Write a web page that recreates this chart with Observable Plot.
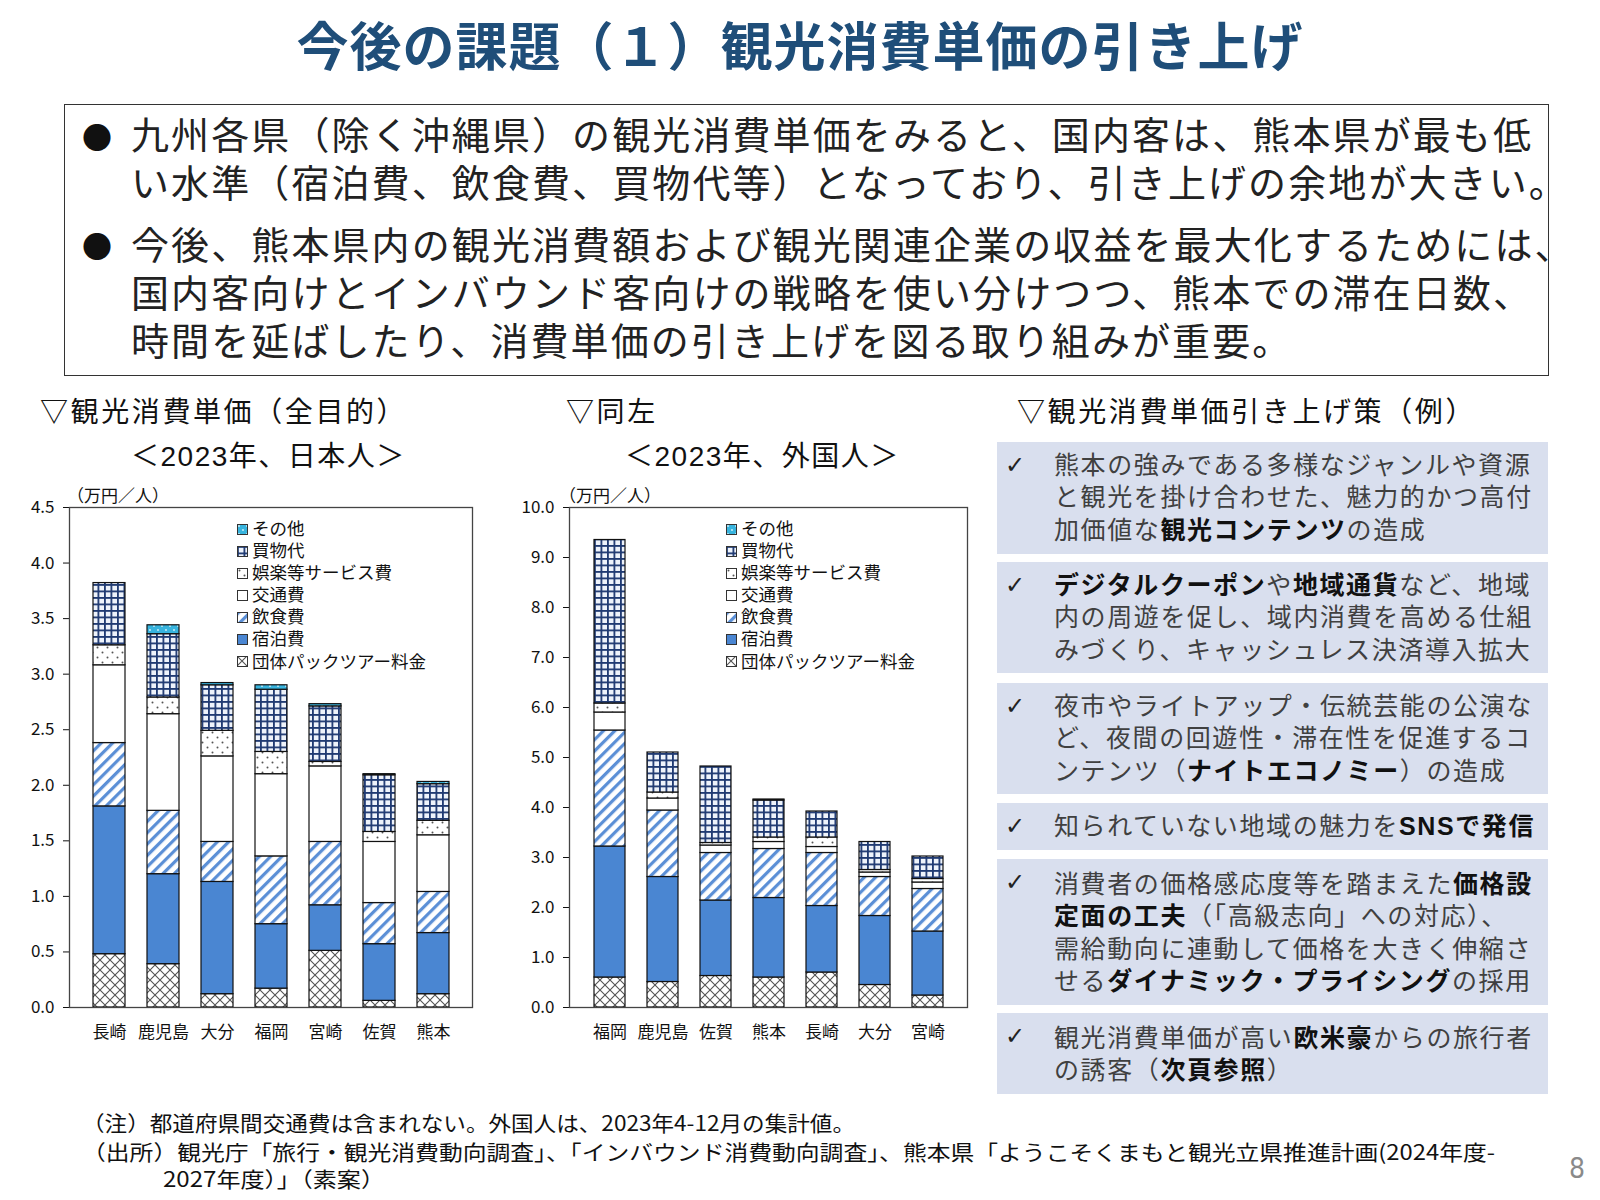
<!DOCTYPE html>
<html><head><meta charset="utf-8">
<script src="https://cdn.jsdelivr.net/npm/d3@7"></script>
<script src="https://cdn.jsdelivr.net/npm/@observablehq/plot@0.6"></script>
<style>
body{margin:0;width:1600px;height:1200px;position:relative;background:#fff;font-family:"Liberation Sans","Noto Sans CJK JP",sans-serif;overflow:hidden;color:#222}
.abs{position:absolute;white-space:nowrap}
.title{left:0;width:1600px;text-align:center;top:16px;font-size:52px;line-height:64px;font-weight:700;color:#1f4e79;letter-spacing:1px}
.box{left:64px;top:104px;width:1485px;height:272px;border:1.5px solid #333;box-sizing:border-box}
.bl{font-size:38px;line-height:48px;letter-spacing:2.1px;left:131px;color:#222}
.bul{font-size:30px;line-height:48px;left:82px;color:#111;font-family:"Noto Sans CJK JP",sans-serif}
.sec{font-size:28px;line-height:36px;letter-spacing:2.6px;color:#111}
.card{left:997px;width:551px;background:#d9dfee;box-sizing:border-box}
.ct{position:absolute;left:57px;top:7px;font-size:25px;line-height:32.3px;letter-spacing:1.6px;color:#404040;white-space:nowrap}
.ct b{color:#111;font-weight:700}
.ck{position:absolute;left:8px;top:7px;font-size:24px;line-height:32px;color:#222;font-family:"DejaVu Sans",sans-serif;font-weight:700}
.unit{font-size:17px;line-height:20px;color:#111}
.lg{font-size:17.5px;line-height:22.1px;color:#111;display:flex;align-items:center}
.lg svg{margin-right:4px}
</style></head><body>
<svg width="0" height="0" style="position:absolute">
 <defs>
  <pattern id="pPack" width="10" height="10" patternUnits="userSpaceOnUse">
   <rect width="10" height="10" fill="#fff"/>
   <path d="M0,0L10,10M10,0L0,10" stroke="#555" stroke-width="1.1"/>
  </pattern>
  <pattern id="pLodge" width="10" height="10" patternUnits="userSpaceOnUse">
   <rect width="10" height="10" fill="#4a86d2"/>
  </pattern>
  <pattern id="pFood" width="8" height="8" patternUnits="userSpaceOnUse" patternTransform="rotate(45)">
   <rect width="8" height="8" fill="#fff"/>
   <rect width="3.2" height="8" fill="#5b8fd6"/>
  </pattern>
  <pattern id="pTrans" width="10" height="10" patternUnits="userSpaceOnUse">
   <rect width="10" height="10" fill="#fff"/>
  </pattern>
  <pattern id="pEnt" width="10" height="10" patternUnits="userSpaceOnUse">
   <rect width="10" height="10" fill="#fff"/>
   <circle cx="2.5" cy="2.5" r="1" fill="#555"/>
   <circle cx="7.5" cy="7.5" r="1" fill="#555"/>
  </pattern>
  <pattern id="pShop" width="6.5" height="6.5" patternUnits="userSpaceOnUse">
   <rect width="6.5" height="6.5" fill="#eef3fb"/>
   <rect width="6.5" height="1.8" fill="#1f3a72"/>
   <rect width="1.8" height="6.5" fill="#1f3a72"/>
  </pattern>
  <pattern id="pOther" width="8" height="8" patternUnits="userSpaceOnUse">
   <rect width="8" height="8" fill="#38b4de"/>
   <circle cx="2" cy="2" r="0.9" fill="#d8f1fa"/>
   <circle cx="6" cy="6" r="0.9" fill="#d8f1fa"/>
  </pattern>
 </defs>
</svg>

<div class="abs title">今後の課題（１）観光消費単価の引き上げ</div>
<div class="abs box"></div>
<div class="abs bul" style="top:112px">●</div>
<div class="abs bl" style="top:112px">九州各県（除く沖縄県）の観光消費単価をみると、国内客は、熊本県が最も低</div>
<div class="abs bl" style="top:160px">い水準（宿泊費、飲食費、買物代等）となっており、引き上げの余地が大きい。</div>
<div class="abs bul" style="top:221px">●</div>
<div class="abs bl" style="top:222px">今後、熊本県内の観光消費額および観光関連企業の収益を最大化するためには、</div>
<div class="abs bl" style="top:270px">国内客向けとインバウンド客向けの戦略を使い分けつつ、熊本での滞在日数、</div>
<div class="abs bl" style="top:318px">時間を延ばしたり、消費単価の引き上げを図る取り組みが重要。</div>

<div class="abs sec" style="left:40px;top:395px">▽観光消費単価（全目的）</div>
<div class="abs sec" style="left:131px;top:439px;letter-spacing:1.5px">＜2023年、日本人＞</div>
<div class="abs sec" style="left:566px;top:395px">▽同左</div>
<div class="abs sec" style="left:625px;top:439px;letter-spacing:1.5px">＜2023年、外国人＞</div>
<div class="abs sec" style="left:1017px;top:395px">▽観光消費単価引き上げ策（例）</div>

<div id="c1" class="abs" style="left:0;top:480px"></div>
<div id="c2" class="abs" style="left:490px;top:480px"></div>
<div class="abs unit" style="left:67px;top:487px">（万円／人）</div>
<div class="abs unit" style="left:559px;top:487px">（万円／人）</div>
<div id="lg1" class="abs" style="left:237px;top:518px"></div>
<div id="lg2" class="abs" style="left:726px;top:518px"></div>

<div class="abs card" style="top:442px;height:112px"><div class="ck">✓</div><div class="ct">熊本の強みである多様なジャンルや資源<br>と観光を掛け合わせた、魅力的かつ高付<br>加価値な<b>観光コンテンツ</b>の造成</div></div>
<div class="abs card" style="top:562px;height:111px"><div class="ck">✓</div><div class="ct"><b>デジタルクーポン</b>や<b>地域通貨</b>など、地域<br>内の周遊を促し、域内消費を高める仕組<br>みづくり、キャッシュレス決済導入拡大</div></div>
<div class="abs card" style="top:683px;height:111px"><div class="ck">✓</div><div class="ct">夜市やライトアップ・伝統芸能の公演な<br>ど、夜間の回遊性・滞在性を促進するコ<br>ンテンツ（<b>ナイトエコノミー</b>）の造成</div></div>
<div class="abs card" style="top:803px;height:47px"><div class="ck">✓</div><div class="ct">知られていない地域の魅力を<b>SNSで発信</b></div></div>
<div class="abs card" style="top:859px;height:146px"><div class="ck">✓</div><div class="ct" style="top:9px">消費者の価格感応度等を踏まえた<b>価格設</b><br><b>定面の工夫</b>（「高級志向」への対応）、<br>需給動向に連動して価格を大きく伸縮さ<br>せる<b>ダイナミック・プライシング</b>の採用</div></div>
<div class="abs card" style="top:1013px;height:81px"><div class="ck">✓</div><div class="ct" style="top:9px">観光消費単価が高い<b>欧米豪</b>からの旅行者<br>の誘客（<b>次頁参照</b>）</div></div>

<svg class="abs" style="left:0;top:1105px" width="1600" height="95">
 <g font-family="'Noto Sans CJK JP',sans-serif" font-size="21" fill="#111">
  <text x="82" y="26" textLength="773" lengthAdjust="spacingAndGlyphs">（注）都道府県間交通費は含まれない。外国人は、2023年4-12月の集計値。</text>
  <text x="82" y="55" textLength="1413" lengthAdjust="spacingAndGlyphs">（出所）観光庁「旅行・観光消費動向調査」、「インバウンド消費動向調査」、熊本県「ようこそくまもと観光立県推進計画(2024年度-</text>
  <text x="163" y="82" textLength="222" lengthAdjust="spacingAndGlyphs">2027年度）」（素案）</text>
 </g>
 <text x="1577" y="73" font-family="'Liberation Sans Narrow','DejaVu Sans Condensed',sans-serif" font-size="28" fill="#8a8a8a" text-anchor="middle">8</text>
</svg>

<script>
// ---- data ----
const seriesNames = ["団体パックツアー料金","宿泊費","飲食費","交通費","娯楽等サービス費","買物代","その他"];
const patternIds = ["pPack","pLodge","pFood","pTrans","pEnt","pShop","pOther"];

// 日本人 (万円／人)
const prefJP = ["長崎","鹿児島","大分","福岡","宮崎","佐賀","熊本"];
const jpPack      = [0.48, 0.39, 0.12, 0.17, 0.51, 0.06, 0.12];
const jpLodging   = [1.33, 0.81, 1.01, 0.58, 0.41, 0.51, 0.55];
const jpFood      = [0.57, 0.57, 0.36, 0.61, 0.57, 0.37, 0.37];
const jpTransport = [0.70, 0.87, 0.77, 0.74, 0.68, 0.55, 0.51];
const jpEntertain = [0.18, 0.15, 0.23, 0.20, 0.04, 0.09, 0.13];
const jpShopping  = [0.56, 0.57, 0.41, 0.56, 0.50, 0.51, 0.33];
const jpOther     = [0.00, 0.08, 0.02, 0.04, 0.02, 0.01, 0.02];

// 外国人 (万円／人)
const prefFG = ["福岡","鹿児島","佐賀","熊本","長崎","大分","宮崎"];
const fgPack      = [0.60, 0.51, 0.63, 0.60, 0.70, 0.45, 0.24];
const fgLodging   = [2.62, 2.10, 1.51, 1.59, 1.33, 1.38, 1.28];
const fgFood      = [2.32, 1.33, 0.95, 0.98, 1.06, 0.78, 0.85];
const fgTransport = [0.36, 0.24, 0.15, 0.14, 0.12, 0.09, 0.13];
const fgEntertain = [0.18, 0.12, 0.05, 0.09, 0.19, 0.05, 0.07];
const fgShopping  = [3.27, 0.80, 1.53, 0.74, 0.52, 0.56, 0.45];
const fgOther     = [0.00, 0.00, 0.00, 0.02, 0.00, 0.00, 0.00];

const yTicksJP = [0,0.5,1,1.5,2,2.5,3,3.5,4,4.5];
const yTicksFG = [0,1,2,3,4,5,6,7,8,9,10];

function chart(cats, cols, yMax, ticks, w, mL, mR, pad) {
  const rows = [];
  cats.forEach((c, i) => {
    let acc = 0;
    cols.forEach((col, j) => {
      const v = col[i];
      rows.push({pref: c, series: seriesNames[j], y1: acc, y2: acc + v});
      acc += v;
    });
  });
  const marks = seriesNames.map((s, j) =>
    Plot.barY(rows.filter(r => r.series === s && r.y2 > r.y1), {
      x: "pref", y1: "y1", y2: "y2",
      fill: `url(#${patternIds[j]})`, stroke: "#111", strokeWidth: 1.2
    }));
  return Plot.plot({
    width: w, height: 570,
    marginLeft: mL, marginRight: mR, marginTop: 27, marginBottom: 43,
    x: {domain: cats, padding: pad, label: null, tickSize: 0, tickPadding: 18},
    y: {domain: [0, yMax], ticks: ticks, tickFormat: d3.format(".1f"), label: null, tickSize: 6, tickPadding: 9},
    marks: [...marks, Plot.frame({stroke: "#444", strokeWidth: 1.3})],
    style: {fontSize: "17px", fontFamily: "'Noto Sans CJK JP',sans-serif", color: "#111", background: "transparent", overflow: "visible"}
  });
}

document.getElementById("c1").append(
  chart(prefJP, [jpPack, jpLodging, jpFood, jpTransport, jpEntertain, jpShopping, jpOther], 4.5, yTicksJP, 490, 69, 18, 0.41));
document.getElementById("c2").append(
  chart(prefFG, [fgPack, fgLodging, fgFood, fgTransport, fgEntertain, fgShopping, fgOther], 10, yTicksFG, 500, 79, 23, 0.42));

function legend(el) {
  const order = [6,5,4,3,2,1,0];
  el.innerHTML = order.map(j =>
    `<div class="lg"><svg width="11" height="11"><rect x="0.5" y="0.5" width="10" height="10" fill="url(#${patternIds[j]})" stroke="#333" stroke-width="1"/></svg>${seriesNames[j]}</div>`
  ).join("");
}
legend(document.getElementById("lg1"));
legend(document.getElementById("lg2"));
</script>
</body></html>
